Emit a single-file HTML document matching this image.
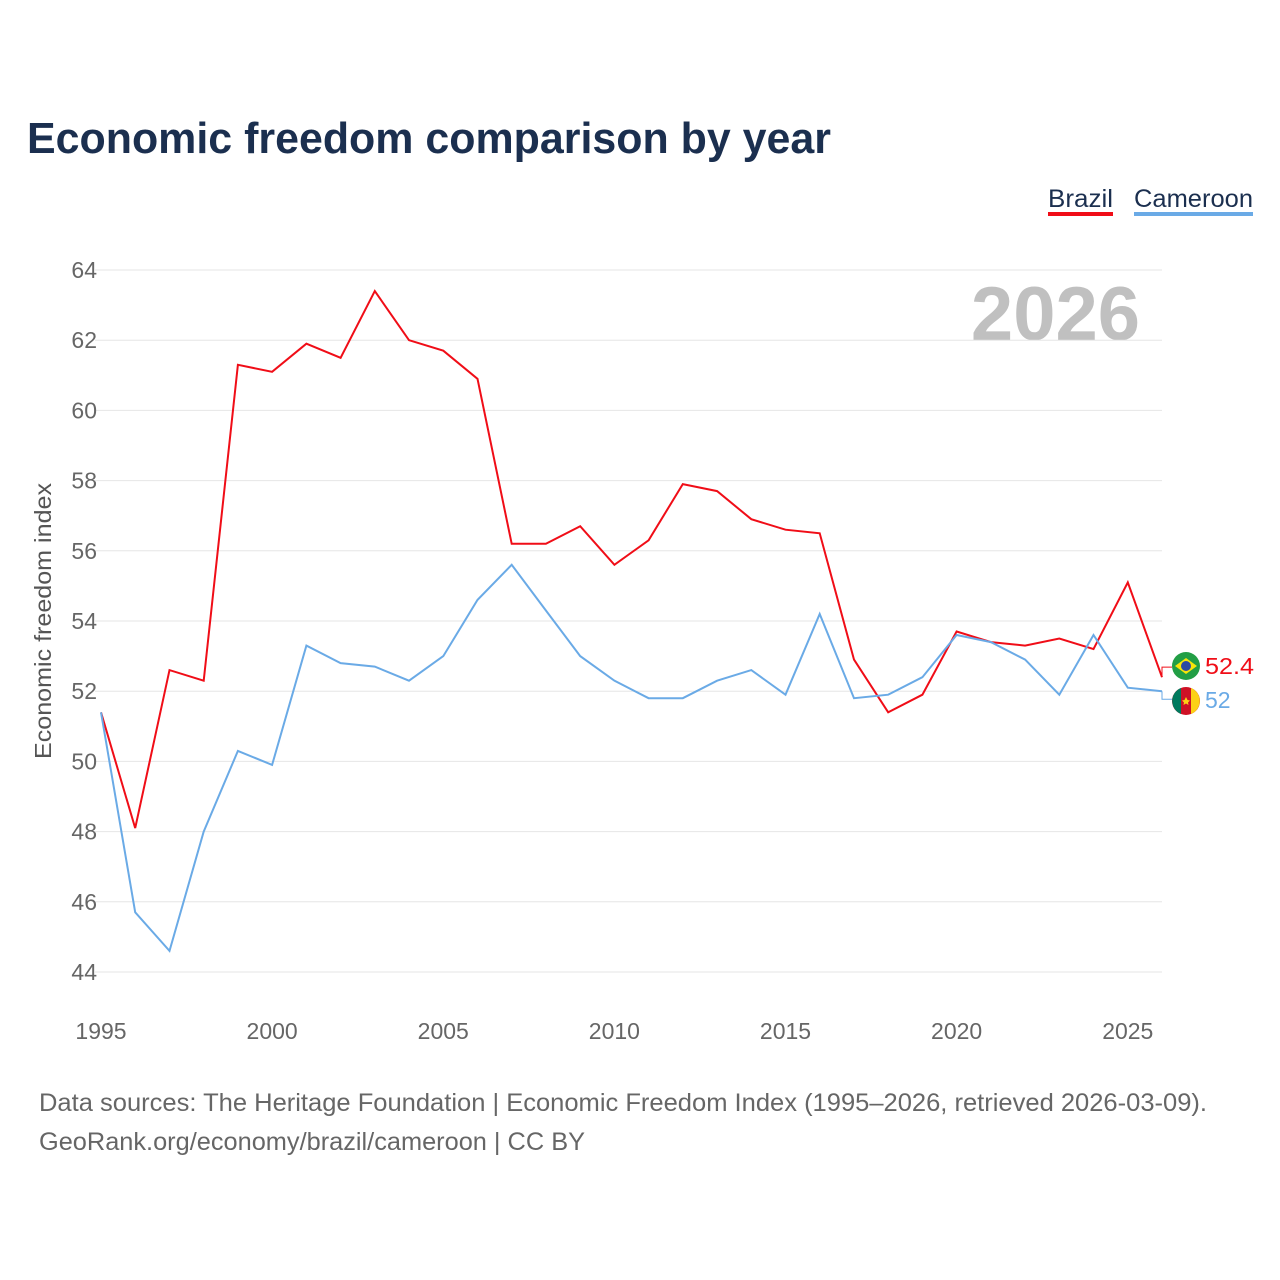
<!DOCTYPE html>
<html><head><meta charset="utf-8"><style>
body{margin:0;background:#fff;font-family:"Liberation Sans",sans-serif;}
#wrap{position:relative;width:1280px;height:1280px;overflow:hidden;}
</style></head><body>
<div id="wrap">
<svg id="chart" width="1280" height="1280" xmlns="http://www.w3.org/2000/svg">
<text x="27" y="153" font-size="44" font-weight="bold" fill="#1b2f4f" textLength="804" lengthAdjust="spacingAndGlyphs">Economic freedom comparison by year</text>
<g><text x="1048" y="207" font-size="25" fill="#1b2f4f" textLength="65" lengthAdjust="spacingAndGlyphs">Brazil</text><rect x="1048" y="212" width="65" height="4" fill="#f00d17"/></g>
<g><text x="1134" y="207" font-size="25" fill="#1b2f4f" textLength="119" lengthAdjust="spacingAndGlyphs">Cameroon</text><rect x="1134" y="212" width="119" height="4" fill="#6aaae6"/></g>
<text x="1140" y="340" font-size="76" font-weight="bold" fill="#c0c0c0" text-anchor="end">2026</text>
<text transform="translate(51,621) rotate(-90)" font-size="23" fill="#555" text-anchor="middle" textLength="276" lengthAdjust="spacingAndGlyphs">Economic freedom index</text>
<g id="grid"></g><g id="lines"></g><g id="ends"></g>
<text x="39" y="1111" font-size="25" fill="#666" textLength="1168" lengthAdjust="spacingAndGlyphs">Data sources: The Heritage Foundation | Economic Freedom Index (1995–2026, retrieved 2026-03-09).</text>
<text x="39" y="1150" font-size="25" fill="#666" textLength="546" lengthAdjust="spacingAndGlyphs">GeoRank.org/economy/brazil/cameroon | CC BY</text>
</svg></div>
<script>
const years=[1995,1996,1997,1998,1999,2000,2001,2002,2003,2004,2005,2006,2007,2008,2009,2010,2011,2012,2013,2014,2015,2016,2017,2018,2019,2020,2021,2022,2023,2024,2025,2026];
const brazil=[51.4,48.1,52.6,52.3,61.3,61.1,61.9,61.5,63.4,62.0,61.7,60.9,56.2,56.2,56.7,55.6,56.3,57.9,57.7,56.9,56.6,56.5,52.9,51.4,51.9,53.7,53.4,53.3,53.5,53.2,55.1,52.4];
const cameroon=[51.4,45.7,44.6,48.0,50.3,49.9,53.3,52.8,52.7,52.3,53.0,54.6,55.6,54.3,53.0,52.3,51.8,51.8,52.3,52.6,51.9,54.2,51.8,51.9,52.4,53.6,53.4,52.9,51.9,53.6,52.1,52.0];
const yTicks=[44,46,48,50,52,54,56,58,60,62,64];
const xTicks=[1995,2000,2005,2010,2015,2020,2025];
const NS="http://www.w3.org/2000/svg";
const x=v=>101+(v-1995)*(1162-101)/31;
const y=v=>972-(v-44)*(972-270)/20;
function mk(t,a,p){const e=document.createElementNS(NS,t);for(const k in a)e.setAttribute(k,a[k]);p.appendChild(e);return e;}
const g=document.getElementById('grid');
yTicks.forEach(v=>{
 const l=mk('line',{x1:95,x2:1162,y1:y(v),y2:y(v),stroke:'#e6e6e6','stroke-width':1},g);
 
 
 const t=mk('text',{x:97,y:y(v)+8,'font-size':23,fill:'#666','text-anchor':'end'},g);t.textContent=v;
 
 
});
xTicks.forEach(v=>{
 const t=mk('text',{x:x(v),y:1039,'font-size':23,fill:'#666','text-anchor':'middle'},g);t.textContent=v;
 
 
});
const L=document.getElementById('lines');
[[brazil,'#f00d17','brazil-line'],[cameroon,'#6aaae6','cameroon-line']].forEach(([d,c,n])=>{
 const p=mk('path',{d:d.map((v,i)=>(i?'L':'M')+x(years[i]).toFixed(1)+','+y(v).toFixed(1)).join(''),fill:'none',stroke:c,'stroke-width':2},L);
 
 
});
const E=document.getElementById('ends');
const lb=brazil[brazil.length-1],lc=cameroon[cameroon.length-1];
mk('path',{d:`M${x(2026)},${y(lb)}v-10h10`,stroke:'#f00d17',fill:'none','stroke-width':1},E);
mk('path',{d:`M${x(2026)},${y(lc)}v8h10`,stroke:'#6aaae6',fill:'none','stroke-width':1},E);
const fb=mk('g',{},E);


mk('circle',{cx:1186,cy:666,r:14,fill:'#229e45'},fb);
mk('polygon',{points:'1175,666 1186,658 1197,666 1186,674',fill:'#f8e509'},fb);
mk('circle',{cx:1186,cy:666,r:5,fill:'#2b49a3'},fb);
const fc=mk('g',{},E);


mk('circle',{cx:1186,cy:701,r:14,fill:'#ce1126'},fc);
mk('path',{d:'M1181,688 A14,14 0 0 0 1181,714 Z',fill:'#007a5e'},fc);
mk('path',{d:'M1191,688 A14,14 0 0 1 1191,714 Z',fill:'#fcd116'},fc);
mk('polygon',{points:'1186,697 1187.5,700 1190,700.5 1188,702.5 1188.5,705 1186,703.5 1183.5,705 1184,702.5 1182,700.5 1184.5,700',fill:'#fcd116'},fc);
const tb=mk('text',{x:1205,y:674,'font-size':23,fill:'#f00d17',textLength:49,lengthAdjust:'spacingAndGlyphs'},E);tb.textContent=lb;


const tc=mk('text',{x:1205,y:708,'font-size':23,fill:'#6aaae6'},E);tc.textContent=lc;


</script>
</body></html>
